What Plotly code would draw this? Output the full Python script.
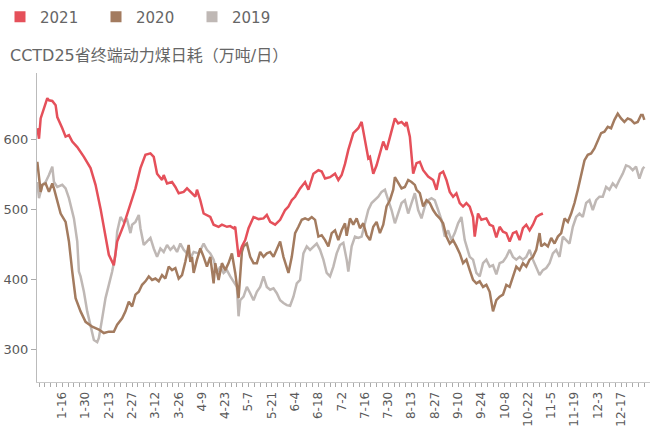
import pandas as pd
import plotly.graph_objects as go

# ---- data (day offset from Jan 1, value in 万吨/日) ----
days_2021 = [0, 1, 2, 4, 6, 7, 9, 11, 12, 15, 17, 19, 21, 24, 28, 32, 35, 38, 41, 43, 46, 48, 52, 56, 59, 62, 65, 68, 70, 72,
             75, 76, 78, 81, 83, 85, 88, 90, 93, 95, 96, 98, 100, 102, 104, 106, 109, 111, 114, 116, 118, 119, 121, 123, 125, 127, 130, 133, 136, 138,
             140, 143, 146, 149, 151, 153, 155, 158, 161, 163, 166, 169, 171, 173, 176, 179, 181, 183, 185, 187, 188, 190, 193, 195, 197, 199, 200, 202, 204, 206,
             208, 210, 212, 214, 215, 217, 219, 221, 222, 224, 226, 228, 230, 232, 235, 238, 240, 242, 244, 246, 248, 250, 252, 254, 256, 258, 260, 262, 263, 265,
             267, 270, 272, 274, 276, 278, 280, 282, 284, 286, 288, 290, 292, 294, 296, 298, 300, 302, 304]
vals_2021 = [616, 601, 630, 644, 659, 656, 655, 649, 632, 616, 604, 606, 597, 589, 575, 559, 535, 501, 463, 435, 420, 454, 478, 506, 530, 559, 578, 580, 575, 551,
             542, 549, 537, 539, 532, 523, 525, 530, 523, 518, 528, 513, 494, 492, 489, 478, 475, 478, 475, 476, 473, 475, 432, 447, 456, 473, 489, 486, 487, 492,
             482, 478, 485, 499, 504, 513, 518, 530, 539, 528, 551, 556, 554, 544, 546, 551, 542, 549, 565, 585, 594, 609, 616, 625, 599, 573, 575, 551, 563, 580,
             597, 585, 604, 623, 630, 623, 625, 620, 625, 604, 551, 566, 568, 556, 547, 542, 528, 551, 554, 542, 525, 518, 523, 509, 504, 509, 504, 489, 461, 494,
             485, 487, 478, 476, 460, 475, 468, 466, 454, 466, 468, 456, 473, 478, 470, 478, 489, 492, 494]

days_2020 = [0, 1, 2, 3, 5, 7, 9, 10, 12, 14, 17, 19, 21, 23, 26, 29, 33, 37, 40, 43, 46, 48, 51, 53, 55, 57, 59, 61, 63, 65,
             67, 69, 71, 73, 75, 77, 79, 81, 83, 85, 87, 89, 91, 92, 93, 94, 96, 98, 100, 102, 104, 106, 107, 109, 111, 113, 115, 117, 119, 121,
             123, 124, 126, 128, 130, 132, 134, 136, 138, 140, 142, 144, 146, 148, 150, 151, 153, 155, 157, 159, 161, 163, 165, 167, 169, 171, 173, 175, 177, 179,
             181, 183, 185, 186, 188, 190, 192, 194, 196, 198, 200, 202, 204, 206, 208, 210, 212, 214, 215, 217, 219, 221, 223, 225, 227, 228, 230, 232, 234, 236,
             238, 240, 242, 244, 246, 248, 250, 252, 254, 256, 258, 260, 262, 264, 266, 268, 270, 272, 274, 276, 278, 280, 282, 284, 286, 288, 290, 292, 294, 296,
             298, 300, 302, 303, 305, 307, 309, 311, 313, 315, 317, 319, 321, 323, 325, 327, 329, 331, 333, 335, 337, 339, 341, 343, 345, 347, 349, 351, 353, 355,
             357, 359, 361, 363, 364, 365]
vals_2020 = [568, 544, 525, 535, 537, 525, 537, 530, 511, 494, 482, 454, 411, 373, 354, 339, 332, 328, 323, 325, 325, 335, 344, 354, 368, 361, 378, 382, 392, 397,
             404, 399, 401, 397, 406, 401, 418, 413, 416, 401, 406, 425, 449, 425, 432, 409, 428, 444, 432, 418, 432, 394, 423, 399, 423, 413, 423, 437, 409, 373,
             439, 447, 451, 432, 423, 423, 439, 432, 437, 439, 432, 442, 454, 432, 418, 409, 432, 466, 475, 485, 487, 485, 489, 485, 461, 463, 456, 447, 466, 470,
             456, 470, 480, 462, 487, 478, 487, 473, 480, 463, 456, 475, 482, 466, 478, 504, 513, 528, 546, 537, 530, 532, 542, 539, 535, 528, 523, 504, 513, 509,
             499, 492, 487, 480, 461, 451, 456, 447, 437, 423, 428, 413, 399, 394, 397, 389, 392, 382, 354, 370, 375, 378, 392, 389, 404, 418, 413, 423, 418, 428,
             432, 442, 466, 447, 451, 447, 459, 451, 461, 466, 487, 482, 494, 509, 528, 551, 570, 578, 580, 587, 599, 609, 611, 618, 616, 628, 637, 630, 625, 630,
             628, 623, 625, 635, 635, 628]

days_2019 = [0, 1, 3, 5, 7, 9, 10, 12, 15, 17, 19, 21, 22, 24, 25, 26, 28, 30, 32, 34, 36, 37, 39, 41, 43, 45, 47, 48, 50, 52,
             54, 56, 57, 59, 61, 62, 64, 66, 68, 70, 72, 74, 76, 78, 80, 82, 84, 86, 88, 90, 92, 94, 97, 100, 102, 104, 106, 108, 110, 112,
             114, 116, 118, 120, 121, 122, 124, 126, 128, 130, 132, 134, 136, 138, 140, 142, 144, 146, 148, 150, 152, 154, 156, 158, 160, 162, 164, 166, 168, 170,
             172, 174, 176, 178, 180, 182, 184, 186, 187, 189, 191, 193, 195, 197, 199, 201, 203, 205, 207, 209, 211, 213, 215, 217, 219, 221, 223, 225, 227, 229,
             231, 233, 235, 237, 239, 241, 243, 245, 247, 249, 251, 253, 255, 257, 258, 260, 262, 264, 266, 268, 270, 272, 274, 276, 278, 280, 282, 284, 286, 288,
             290, 292, 294, 296, 298, 300, 302, 304, 306, 308, 310, 312, 314, 316, 318, 320, 322, 324, 326, 328, 330, 332, 334, 336, 338, 340, 342, 344, 346, 348,
             350, 352, 354, 356, 358, 360, 362, 364, 365]
vals_2019 = [539, 516, 535, 539, 549, 561, 539, 532, 535, 530, 516, 494, 487, 454, 411, 404, 382, 354, 335, 313, 310, 316, 344, 373, 392, 411, 435, 468, 489, 482,
             485, 466, 478, 482, 492, 473, 449, 454, 459, 444, 432, 444, 439, 449, 442, 447, 439, 451, 442, 437, 430, 439, 437, 451, 442, 437, 428, 409, 418, 409,
             413, 404, 397, 389, 347, 370, 375, 389, 380, 370, 382, 389, 404, 389, 385, 387, 380, 370, 366, 363, 362, 375, 394, 399, 437, 447, 442, 447, 451, 442,
             428, 409, 404, 418, 437, 449, 452, 428, 411, 447, 461, 459, 461, 480, 499, 509, 513, 518, 525, 528, 513, 499, 480, 494, 509, 513, 494, 509, 523, 499,
             487, 504, 513, 516, 513, 499, 485, 461, 470, 456, 466, 480, 489, 456, 447, 432, 428, 409, 404, 423, 428, 418, 420, 407, 423, 425, 432, 442, 432, 428,
             432, 428, 432, 442, 428, 418, 406, 413, 416, 423, 437, 442, 432, 461, 456, 451, 475, 489, 494, 489, 509, 513, 499, 513, 518, 518, 532, 528, 537, 532,
             542, 551, 563, 561, 556, 561, 544, 558, 561]

tick_labels = ["1-16", "1-30", "2-13", "2-27", "3-12", "3-26", "4-9", "4-23", "5-7", "5-21", "6-4", "6-18", "7-2",
               "7-16", "7-30", "8-13", "8-27", "9-10", "9-24", "10-8", "10-22", "11-5", "11-19", "12-3", "12-17"]
y_ticks = [300, 400, 500, 600]

series_names = ["2021", "2020", "2019"]
colors = {"2021": "#E5505A", "2020": "#A37B5F", "2019": "#BFB8B5"}

base = pd.Timestamp("2020-01-01")


def to_dates(days):
    return [base + pd.Timedelta(days=d) for d in days]


def label_to_date(lab):
    m, d = lab.split("-")
    return pd.Timestamp(year=2020, month=int(m), day=int(d))


tick_dates = [label_to_date(t) for t in tick_labels]

data = {
    "2021": (days_2021, vals_2021),
    "2020": (days_2020, vals_2020),
    "2019": (days_2019, vals_2019),
}

FONT = "DejaVu Sans, Noto Sans CJK SC, sans-serif"
W, H = 654, 434
fig = go.Figure()

# lines (drawn 2019 first so 2021 sits on top)
for name in ["2019", "2020", "2021"]:
    d, v = data[name]
    fig.add_trace(go.Scatter(x=to_dates(d), y=v, mode="lines", name=name,
                             line=dict(color=colors[name], width=2.5),
                             showlegend=False, hoverinfo="x+y"))

# square legend entries
for name in series_names:
    fig.add_trace(go.Scatter(x=[None], y=[None], mode="markers", name=name,
                             marker=dict(symbol="square", size=11, color=colors[name]),
                             showlegend=True))

fig.update_layout(
    width=W, height=H,
    margin=dict(l=37, r=4, t=73, b=52),
    paper_bgcolor="white", plot_bgcolor="white",
    font=dict(family=FONT, color="#595959"),
    showlegend=True,
    legend=dict(orientation="h", xref="container", yref="container",
                x=-9 / W, y=1 - 17 / H, xanchor="left", yanchor="middle",
                font=dict(size=15, color="#666666"), entrywidth=51,
                traceorder="normal", itemwidth=30, bgcolor="rgba(0,0,0,0)"),
    xaxis=dict(
        type="date", automargin=False,
        range=[base + pd.Timedelta(days=-0.2), base + pd.Timedelta(days=368.4)],
        tickmode="array", tickvals=tick_dates, ticktext=tick_labels,
        tickangle=-90, tickfont=dict(size=12, color="#595959"),
        ticks="outside", ticklen=4, tickcolor="#aaaaaa",
        minor=dict(ticks="outside", ticklen=4, tickcolor="#aaaaaa",
                   tick0="2020-01-16", dtick=302400000),
        showline=True, linecolor="#c8c8c8", linewidth=1,
        showgrid=False, zeroline=False,
    ),
    yaxis=dict(
        range=[253, 695], automargin=False,
        tickmode="array", tickvals=y_ticks,
        tickfont=dict(size=13, color="#595959"),
        ticks="outside", ticklen=5, tickcolor="#aaaaaa",
        showline=True, linecolor="#bbbbbb", linewidth=1,
        showgrid=False, zeroline=False,
    ),
    annotations=[dict(
        text="CCTD25省终端动力煤日耗（万吨/日）",
        xref="paper", yref="paper", x=-29 / 613, y=1 + 18 / 309,
        xanchor="left", yanchor="middle", showarrow=False,
        font=dict(size=16, color="#666666", family=FONT),
    )],
)

# remove the default 8px page margin so the figure sits at the window's corner
fig.write_html("out.html", config={"displayModeBar": False},
               post_script="document.body.style.margin='0';")
